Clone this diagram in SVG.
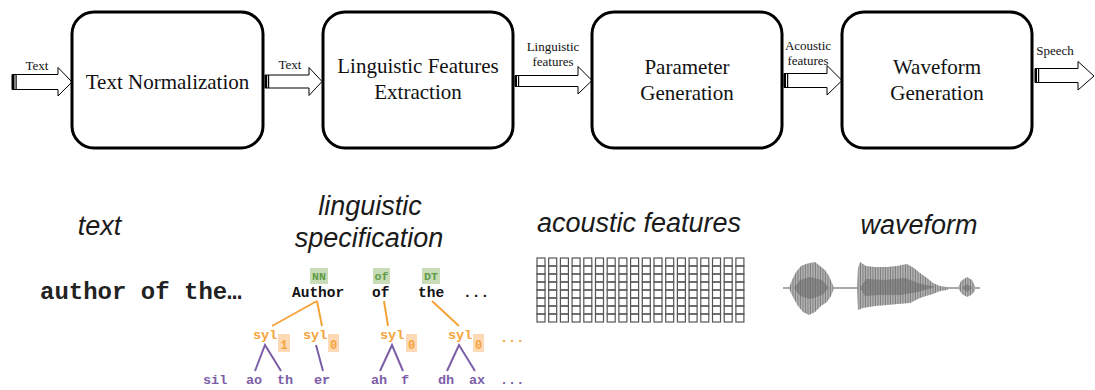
<svg xmlns="http://www.w3.org/2000/svg" width="1095" height="390" viewBox="0 0 1095 390">
<style>
.box{fill:#fff;stroke:#000;stroke-width:3}
.bt{font-family:"Liberation Serif",serif;font-size:21px;fill:#111;text-anchor:middle}
.lbl{font-family:"Liberation Serif",serif;font-size:13px;fill:#111;text-anchor:middle}
.arr{fill:#fff;stroke:#000;stroke-width:1}
.head{font-family:"Liberation Sans",sans-serif;font-style:italic;font-size:27px;fill:#1a1a1a;text-anchor:middle}
.mono{font-family:"Liberation Mono",monospace;font-weight:bold}
.org{fill:#f5a33b}
.pur{fill:#7b5ea7}
.grn{fill:#5f9b46}
.ol{stroke:#f5a33b;stroke-width:2;fill:none}
.pl{stroke:#7b5ea7;stroke-width:2;fill:none}
.tag{fill:#c8dcb8}
.sub{fill:#fdd9b5}
.cell{fill:none;stroke:#555;stroke-width:1.2}
</style>
<defs>
<pattern id="stripes" width="5" height="10" patternUnits="userSpaceOnUse">
<rect x="0" y="0" width="0.8" height="10" fill="#222"/>
<rect x="2.2" y="0" width="0.6" height="10" fill="#444"/>
<rect x="3.6" y="0" width="0.5" height="10" fill="#333"/>
</pattern>
<filter id="soft" x="-5%" y="-10%" width="110%" height="120%">
<feGaussianBlur stdDeviation="0.45"/>
</filter>
<g id="col">
<rect class="cell" x="0" y="0" width="8" height="8"/>
<rect class="cell" x="0" y="8" width="8" height="8"/>
<rect class="cell" x="0" y="16" width="8" height="8"/>
<rect class="cell" x="0" y="24" width="8" height="8"/>
<rect class="cell" x="0" y="32" width="8" height="8"/>
<rect class="cell" x="0" y="40" width="8" height="8"/>
<rect class="cell" x="0" y="48" width="8" height="8"/>
<rect class="cell" x="0" y="56" width="8" height="8"/>
</g>
<path id="env" d="M789,288 L792,280 L796,272 L801,266 L806,264 L810,263 L815,262 L820,266 L825,270 L829,276 L832,283 L834,288 L831,296 L827,302 L821,306 L815,312 L809,315 L803,312 L798,306 L794,299 L791,293 Z
M857,288 L858,268 L860,262 L866,266 L875,267 L887,267 L897,266 L907,264 L914,268 L920,273 L927,278 L933,283 L940,286 L947,287 L950,288 L947,290 L940,291 L933,294 L926,296 L920,298 L910,303 L898,304 L887,305 L875,306 L863,308 L858,310 Z
M958,288 L961,281 L967,277 L972,280 L975,286 L975,291 L971,295 L967,297 L962,294 Z"/>
</defs>
<rect width="1095" height="390" fill="#fff"/>

<g id="connectors">
<g id="arrow-in">
<polygon class="arr" points="12,74.5 58,74.5 58,67.5 72,82 58,96 58,89.5 12,89.5"/>
<rect x="12" y="74.5" width="2.5" height="15" fill="#000"/>
<rect x="15.5" y="74.5" width="1.2" height="15" fill="#000"/>
<text class="lbl" x="37" y="70">Text</text>
</g>
<g id="arrow-1-2">
<polygon class="arr" points="265,75 309,75 309,67.5 322,81.5 309,95.5 309,88 265,88"/>
<rect x="265" y="75" width="2.2" height="13" fill="#000"/>
<rect x="268" y="75" width="1.2" height="13" fill="#000"/>
<text class="lbl" x="290" y="69">Text</text>
</g>
<g id="arrow-2-3">
<polygon class="arr" points="515,75.5 578,75.5 578,66.5 592,80.5 578,94 578,86.5 515,86.5"/>
<rect x="515" y="75.5" width="2" height="11" fill="#000"/>
<rect x="518" y="75.5" width="1.2" height="11" fill="#000"/>
<text class="lbl" x="553" y="51">Linguistic</text>
<text class="lbl" x="553" y="66">features</text>
</g>
<g id="arrow-3-4">
<polygon class="arr" points="784,73.5 827,73.5 827,65.5 842,80.5 827,95 827,87.5 784,87.5"/>
<rect x="784" y="73.5" width="2" height="14" fill="#000"/>
<rect x="787" y="73.5" width="1.2" height="14" fill="#000"/>
<text class="lbl" x="808" y="50">Acoustic</text>
<text class="lbl" x="808" y="65">features</text>
</g>
<g id="arrow-out">
<polygon class="arr" points="1035,68.5 1078,68.5 1078,61.5 1094,76 1078,90 1078,82.5 1035,82.5"/>
<rect x="1035" y="68.5" width="2" height="14" fill="#000"/>
<rect x="1038" y="68.5" width="1.2" height="14" fill="#000"/>
<text class="lbl" x="1055" y="55">Speech</text>
</g>
</g>

<g id="node-text-normalization">
<rect class="box" x="72" y="12" width="191" height="136" rx="22"/>
<text class="bt" x="167.5" y="89">Text Normalization</text>
</g>
<g id="node-linguistic-features">
<rect class="box" x="323" y="12" width="190" height="136" rx="22"/>
<text class="bt" x="418" y="73">Linguistic Features</text>
<text class="bt" x="418" y="99">Extraction</text>
</g>
<g id="node-parameter-generation">
<rect class="box" x="592" y="12" width="190" height="136" rx="22"/>
<text class="bt" x="687" y="74">Parameter</text>
<text class="bt" x="687" y="100">Generation</text>
</g>
<g id="node-waveform-generation">
<rect class="box" x="842" y="12" width="190" height="136" rx="22"/>
<text class="bt" x="937" y="74">Waveform</text>
<text class="bt" x="937" y="100">Generation</text>
</g>

<g id="text-example">
<text class="head" x="99.5" y="235">text</text>
<text class="mono" x="40" y="299" font-size="24" fill="#222">author of the…</text>
</g>

<g id="linguistic-spec">
<text class="head" x="370" y="215">linguistic</text>
<text class="head" x="369" y="247">specification</text>
<rect class="tag" x="310" y="268" width="18" height="16"/>
<rect class="tag" x="373" y="268" width="17" height="16"/>
<rect class="tag" x="422" y="268" width="18" height="16"/>
<g class="mono grn" font-size="11.5" text-anchor="middle">
<text x="319" y="280">NN</text>
<text x="381.5" y="280">of</text>
<text x="431" y="280">DT</text>
</g>
<g class="mono" font-size="14.5" fill="#111">
<text x="292" y="297">Author</text>
<text x="372" y="297">of</text>
<text x="418" y="297">the</text>
<text x="463" y="297">...</text>
</g>
<path class="ol" d="M317,301 L272,326 M317,301 L322,326 M384,301 L388,326 M432,301 L459,326"/>
<rect class="sub" x="278" y="334" width="12" height="18"/>
<rect class="sub" x="328" y="334" width="11" height="18"/>
<rect class="sub" x="406" y="334" width="11" height="18"/>
<rect class="sub" x="473" y="334" width="11" height="18"/>
<g class="mono org" font-size="13.5">
<text x="253" y="339">syl</text>
<text x="303" y="339">syl</text>
<text x="380" y="339">syl</text>
<text x="448" y="339">syl</text>
<text x="500" y="342">...</text>
</g>
<g class="mono org" font-size="12" text-anchor="middle">
<text x="284" y="349">1</text>
<text x="333.5" y="349">0</text>
<text x="411.5" y="349">0</text>
<text x="478.5" y="349">0</text>
</g>
<path class="pl" d="M255,371 L265,345 L281,371 M316,345 L323,371 M380,371 L392,345 L403,371 M447,371 L459,345 L475,371"/>
<g class="mono pur" font-size="13.5">
<text x="203" y="384">sil</text>
<text x="246" y="384">ao</text>
<text x="277" y="384">th</text>
<text x="314" y="384">er</text>
<text x="371" y="384">ah</text>
<text x="401" y="384">f</text>
<text x="438" y="384">dh</text>
<text x="469" y="384">ax</text>
<text x="500" y="384">...</text>
</g>
</g>

<g id="acoustic-features">
<text class="head" x="639" y="232">acoustic features</text>
<use href="#col" x="537" y="258"/>
<use href="#col" x="548.7" y="258"/>
<use href="#col" x="560.4" y="258"/>
<use href="#col" x="572.1" y="258"/>
<use href="#col" x="583.8" y="258"/>
<use href="#col" x="595.5" y="258"/>
<use href="#col" x="607.2" y="258"/>
<use href="#col" x="618.9" y="258"/>
<use href="#col" x="630.6" y="258"/>
<use href="#col" x="642.3" y="258"/>
<use href="#col" x="654" y="258"/>
<use href="#col" x="665.7" y="258"/>
<use href="#col" x="677.4" y="258"/>
<use href="#col" x="689.1" y="258"/>
<use href="#col" x="700.8" y="258"/>
<use href="#col" x="712.5" y="258"/>
<use href="#col" x="724.2" y="258"/>
<use href="#col" x="735.9" y="258"/>
</g>

<g id="waveform">
<text class="head" x="919" y="234">waveform</text>
<g filter="url(#soft)">
<line x1="783" y1="288" x2="980" y2="288" stroke="#555" stroke-width="1.2"/>
<use href="#env" fill="#b4b4b4"/>
<use href="#env" fill="url(#stripes)" opacity="0.45"/>
<path fill="#666" opacity="0.55" d="M794,288 L800,280 L810,277 L822,280 L829,288 L822,295 L810,299 L800,296 Z M860,288 L866,279 L885,280 L905,278 L918,283 L935,287 L918,292 L900,295 L880,295 L865,296 Z M962,288 L967,284 L972,288 L967,292 Z"/>
</g>
</g>
</svg>
